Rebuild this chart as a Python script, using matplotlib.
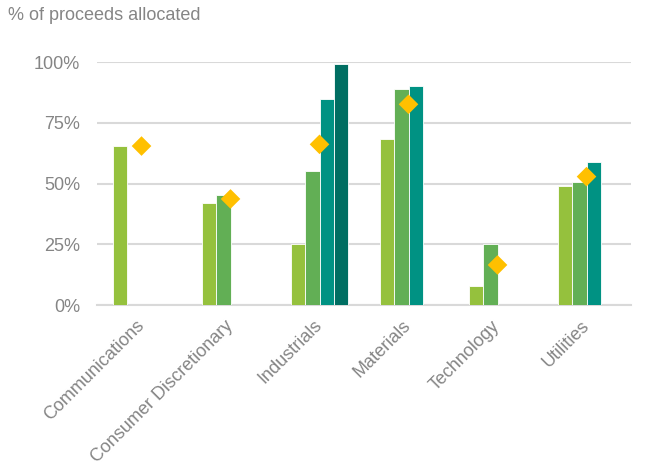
import numpy as np
import matplotlib.pyplot as plt
from matplotlib.ticker import FuncFormatter

plt.rcParams['font.family'] = ['Liberation Sans', 'DejaVu Sans']

# 섹터별 배분 비율 (%), 빈 값은 NaN
sectors = ['Communications', 'Consumer Discretionary', 'Industrials',
           'Materials', 'Technology', 'Utilities']
series_1 = [65.5, 42.0, 25.1, 68.4, 7.8, 49.0]
series_2 = [np.nan, 45.2, 55.3, 88.9, 25.0, 50.5]
series_3 = [np.nan, np.nan, 84.9, 90.4, np.nan, 58.9]
series_4 = [np.nan, np.nan, 99.3, np.nan, np.nan, np.nan]
average = [65.5, 43.7, 66.2, 82.7, 16.5, 52.9]
y_ticks = [0, 25, 50, 75, 100]

BAR_COLORS = ['#95C13D', '#62AF55', '#009283', '#006E62']
DIAMOND_COLOR = '#FFC000'
TEXT_COLOR = '#858585'
GRID_COLOR = '#D9D9D9'
FONT_SIZE = 13

fig = plt.figure(figsize=(6.49, 4.72), dpi=100)
fig.patch.set_facecolor('white')
ax = fig.add_axes([0.1495, 0.3538, 0.8228, 0.5142])

x = np.arange(len(sectors))
width = 0.162
all_series = [series_1, series_2, series_3, series_4]
for i, (vals, color) in enumerate(zip(all_series, BAR_COLORS)):
    offset = (i - 1.5) * width
    ax.bar(x + offset, np.array(vals) / 100, width=width, color=color,
           edgecolor='white', linewidth=0.6, zorder=3)

# 평균 마커 (다이아몬드)
ax.scatter(x, np.array(average) / 100, marker='D', s=100, color=DIAMOND_COLOR,
           edgecolor='none', zorder=4)

ax.set_xlim(-0.5, len(sectors) - 0.5)
ax.set_ylim(0, 1)
ax.set_yticks(np.array(y_ticks) / 100)
ax.yaxis.set_major_formatter(FuncFormatter(lambda v, _: f'{v * 100:.0f}%'))
ax.grid(axis='y', color=GRID_COLOR, linewidth=1.5, zorder=0)
ax.set_axisbelow(True)

for side in ['top', 'right', 'left']:
    ax.spines[side].set_visible(False)
ax.spines['bottom'].set_color(GRID_COLOR)
ax.spines['bottom'].set_linewidth(1.5)

ax.tick_params(axis='both', length=0, colors=TEXT_COLOR, labelsize=FONT_SIZE)
ax.tick_params(axis='y', pad=12)
ax.set_xticks(x)
ax.set_xticklabels(sectors, rotation=45, ha='right', va='center',
                   rotation_mode='anchor')
ax.tick_params(axis='x', pad=13)

fig.text(8 / 649, 1 - 15 / 472, '% of proceeds allocated', color=TEXT_COLOR,
         fontsize=FONT_SIZE, ha='left', va='center')

plt.savefig('out.png', dpi=100, facecolor='white')
plt.close(fig)
